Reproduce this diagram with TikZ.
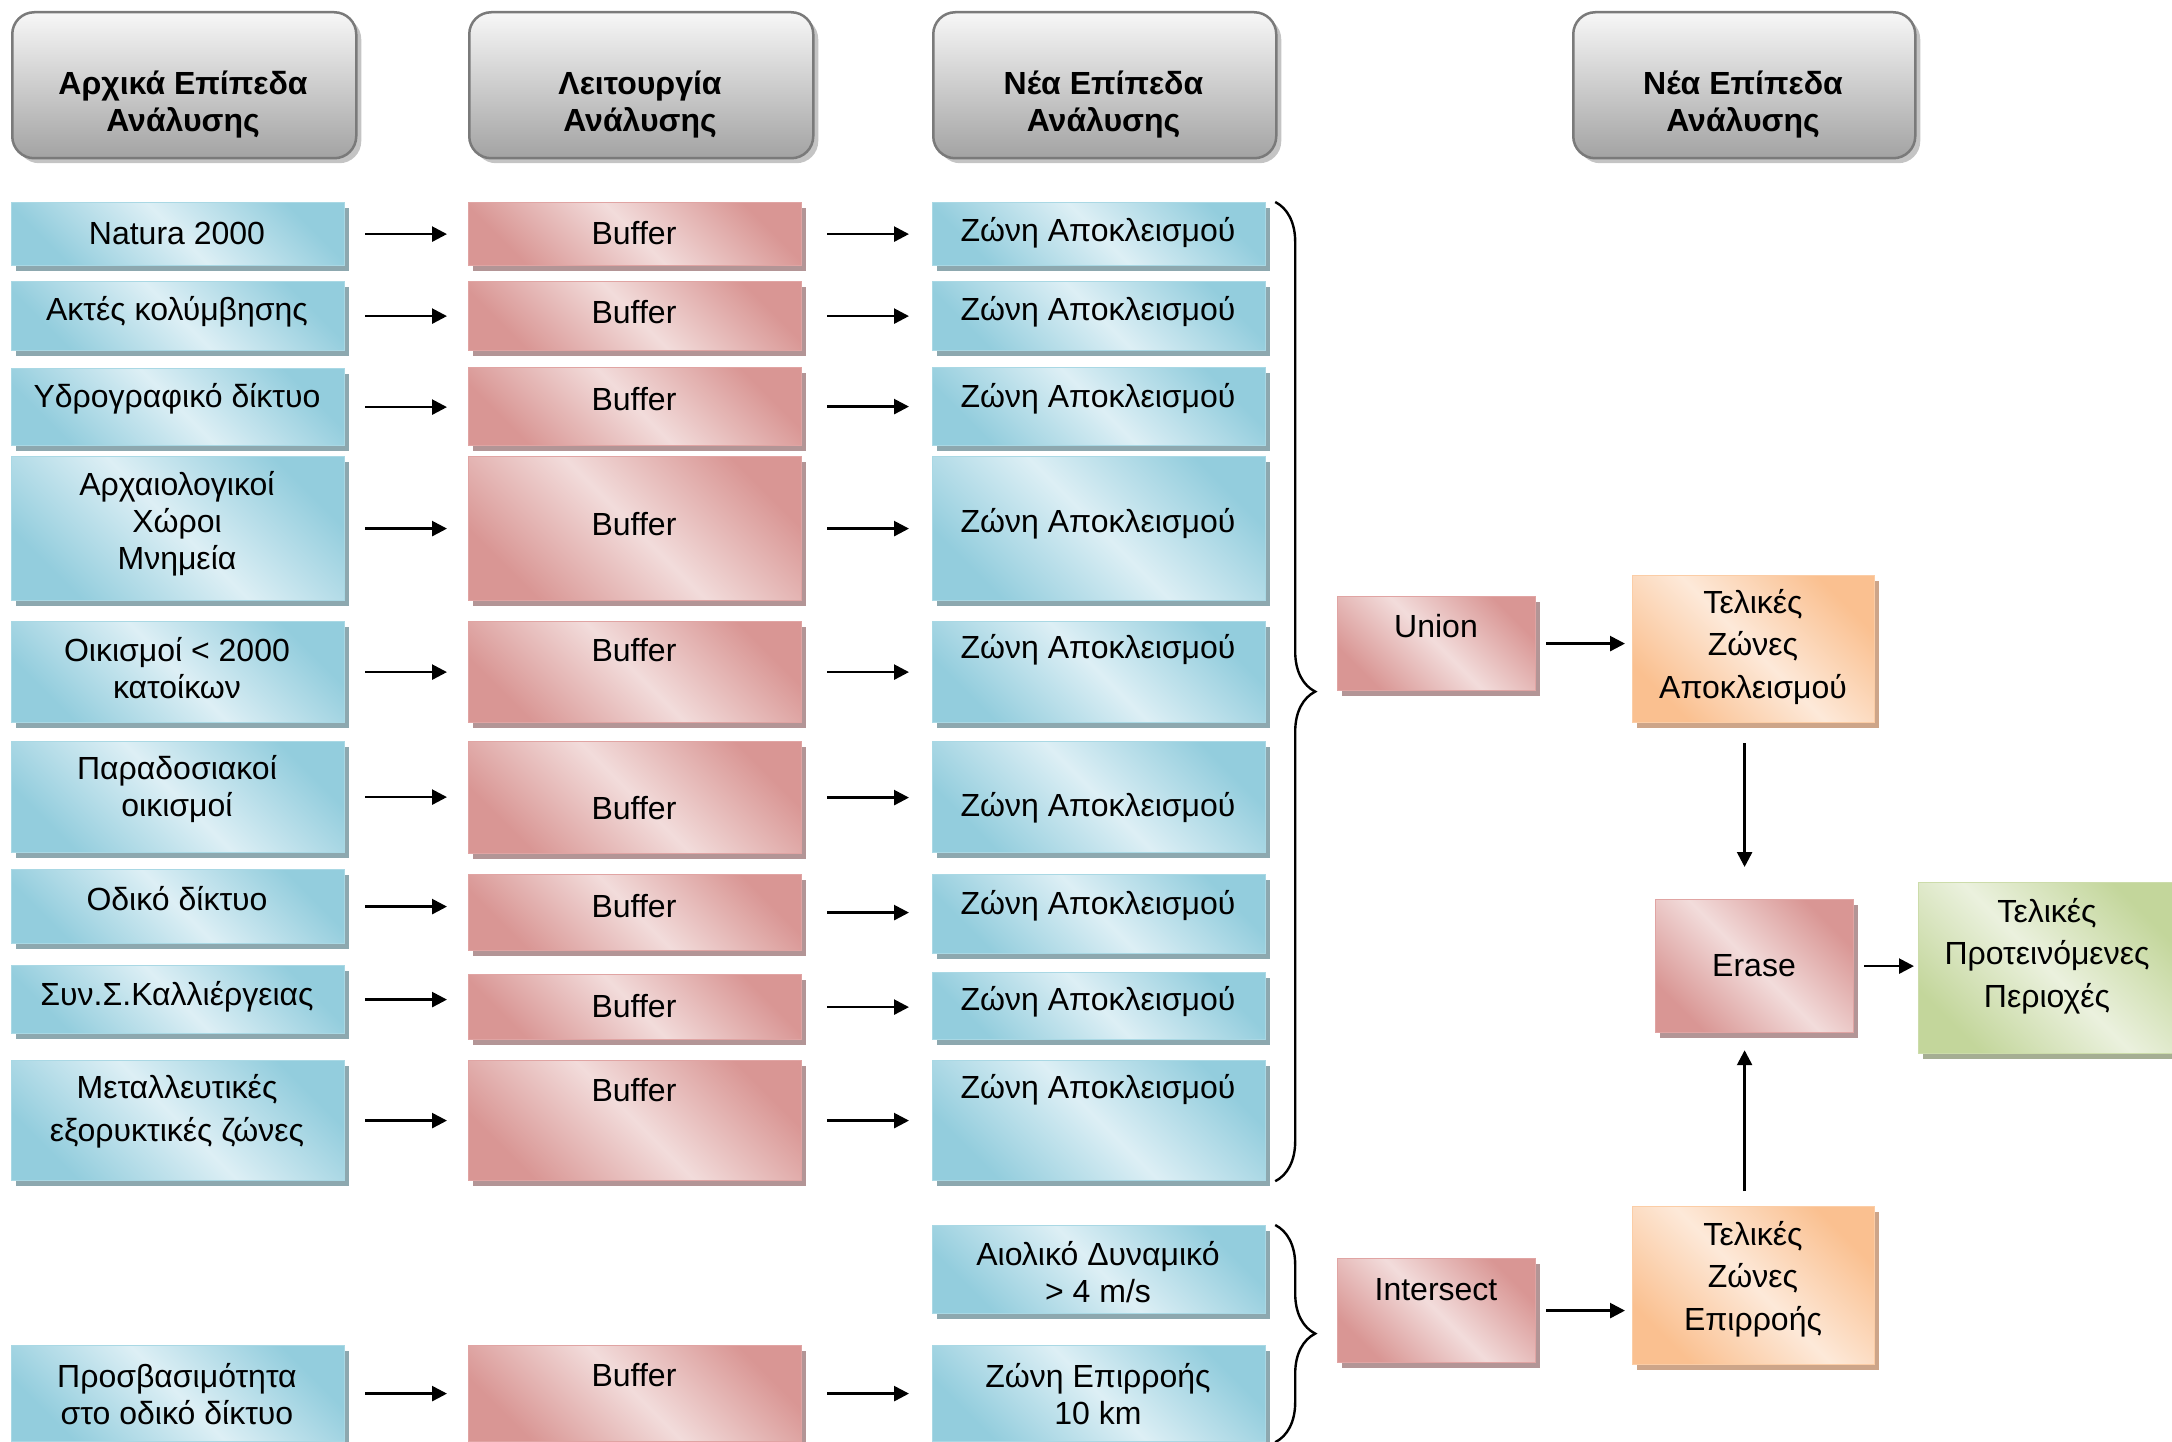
\documentclass[tikz,border=0pt]{standalone}
\usepackage{fontspec}
\setmainfont{Liberation Sans}
\usepackage{tikz}
\usetikzlibrary{positioning,arrows.meta,shadows,decorations.pathreplacing}

\definecolor{bluD}{HTML}{93CDDD}
\definecolor{bluL}{HTML}{DDEFF5}
\definecolor{bluB}{HTML}{A9D8E4}
\definecolor{bluS}{HTML}{8DA8AF}
\definecolor{redD}{HTML}{D99694}
\definecolor{redL}{HTML}{F2DCDB}
\definecolor{redB}{HTML}{E0A4A3}
\definecolor{redS}{HTML}{B39596}
\definecolor{oraD}{HTML}{FAC090}
\definecolor{oraL}{HTML}{FDE9D9}
\definecolor{oraB}{HTML}{FBCDA6}
\definecolor{oraS}{HTML}{CDA589}
\definecolor{grnD}{HTML}{C3D69B}
\definecolor{grnL}{HTML}{EBF1DE}
\definecolor{grnB}{HTML}{CCDCAA}
\definecolor{grnS}{HTML}{A5AE93}
\definecolor{gryT}{HTML}{F7F7F7}
\definecolor{gryB}{HTML}{A3A3A3}
\definecolor{gryD}{HTML}{7A7A7A}
\definecolor{gryS}{HTML}{C4C4C4}

\tikzset{
  box/.style={anchor=north west, inner sep=0pt, line width=1.2pt},
  bluebox/.style={box, draw=bluB, top color=bluD, bottom color=bluD, middle color=bluL,
    shading angle=-45, drop shadow={shadow xshift=4pt, shadow yshift=-5pt, fill=bluS, opacity=1}},
  redbox/.style={box, draw=redB, top color=redD, bottom color=redD, middle color=redL,
    shading angle=-45, drop shadow={shadow xshift=4pt, shadow yshift=-5pt, fill=redS, opacity=1}},
  orabox/.style={box, draw=oraB, top color=oraD, bottom color=oraD, middle color=oraL,
    shading angle=-45, drop shadow={shadow xshift=4pt, shadow yshift=-5pt, fill=oraS, opacity=1}},
  grnbox/.style={box, draw=grnB, top color=grnD, bottom color=grnD, middle color=grnL,
    shading angle=-45, drop shadow={shadow xshift=4pt, shadow yshift=-5pt, fill=grnS, opacity=1}},
  headbox/.style={anchor=north west, inner sep=0pt, rounded corners=22pt, line width=2.5pt,
    draw=gryD, top color=gryT, bottom color=gryB,
    drop shadow={shadow xshift=5pt, shadow yshift=-5pt, fill=gryS, opacity=1}},
  txt/.style={font=\fontsize{32}{37}\selectfont, align=center, inner sep=0pt},
  wide/.style={font=\fontsize{32}{42.5}\selectfont},
  head/.style={font=\fontsize{32}{37}\selectfont\bfseries, align=center, inner sep=0pt},
  arr/.style={-{Triangle[length=15pt,width=15pt]}, line width=2.6pt},
  brc/.style={decorate, decoration={brace, amplitude=40pt}, line width=2.4pt}
}

\begin{document}
\begin{tikzpicture}[x=1pt, y=-1pt]
\useasboundingbox (0,0) rectangle (2172,1442);

% Column headers
\foreach \k/\xa/\xb/\txt in {1/11/355/{Αρχικά Επίπεδα\\Ανάλυσης},
    2/468/812/{Λειτουργία\\Ανάλυσης}, 3/932/1275/{Νέα Επίπεδα\\Ανάλυσης},
    4/1572/1914/{Νέα Επίπεδα\\Ανάλυσης}} {
  \node[headbox, minimum width=\xb-\xa, minimum height=146] (h\k) at (\xa,11) {};
  \node[head] (ht\k) at ({(\xa+\xb)/2},105) {\txt};
}

% Initial layers
\foreach \k/\ya/\yb/\ty/\txt in {1/202/265/233/{Natura 2000},
    2/281/350/312/{Ακτές κολύμβησης}, 3/368/445/399/{Υδρογραφικό δίκτυο},
    4/456/600/524/{Αρχαιολογικοί\\Χώροι\\Μνημεία},
    5/621/722/668/{Οικισμοί < 2000\\κατοίκων},
    6/741/852/789/{Παραδοσιακοί\\οικισμοί}, 7/869/943/899/{Οδικό δίκτυο},
    8/965/1033/997/{Συν.Σ.Καλλιέργειας},
    9/1060/1180/1111/{Μεταλλευτικές\\[6pt]εξορυκτικές ζώνες},
    10/1345/1441/1394/{Προσβασιμότητα\\στο οδικό δίκτυο}} {
  \node[bluebox, minimum width=333, minimum height=\yb-\ya] (b\k) at (11,\ya) {};
  \node[txt] (bt\k) at (177,\ty) {\txt};
}

% Buffer operations
\foreach \k/\ya/\yb/\ty in {1/202/265/233, 2/281/350/312, 3/367/445/399,
    4/456/600/524, 5/621/722/650, 6/741/853/808, 7/874/950/906,
    8/974/1039/1006, 9/1060/1180/1090, 10/1345/1441/1375} {
  \node[redbox, minimum width=333, minimum height=\yb-\ya] (r\k) at (468,\ya) {};
  \node[txt] (rt\k) at (634,\ty) {Buffer};
}

% Exclusion zones
\foreach \k/\ya/\yb/\ty in {1/202/265/233, 2/281/350/312, 3/367/445/399,
    4/456/600/524, 5/621/722/650, 6/741/852/808, 7/874/953/906,
    8/972/1039/1002, 9/1060/1180/1090} {
  \node[bluebox, minimum width=333, minimum height=\yb-\ya] (z\k) at (932,\ya) {};
  \node[txt] (zt\k) at (1098,\ty) {Ζώνη Αποκλεισμού};
}
\node[bluebox, minimum width=333, minimum height=88] (wnd) at (932,1225) {};
\node[txt] (wndt) at (1098,1272) {Αιολικό Δυναμικό\\> 4 m/s};
\node[bluebox, minimum width=333, minimum height=96] (z10) at (932,1345) {};
\node[txt] (zt10) at (1098,1394) {Ζώνη Επιρροής\\10 km};

\foreach \k in {1,...,10} {
  \draw[arr, shorten <=20pt, shorten >=21pt] (b\k.east) -- (b\k.east -| r\k.west);
  \draw[arr, shorten <=25pt, shorten >=23pt] (r\k.east) -- (r\k.east -| z\k.west);
}

% Braces
\draw[brc] ([xshift=9pt]z1.north east) -- ([xshift=9pt]z9.south east);
\draw[brc] ([xshift=9pt]wnd.north east) -- ([xshift=9pt]z10.south east);

% Final steps
\node[redbox, minimum width=198, minimum height=94] (uni) at (1337,596) {};
\node[txt] (unit) at (1436,626) {Union};
\node[orabox, minimum width=242, minimum height=147] (fz1) at (1632,575) {};
\node[txt, wide] (fz1t) at (1753,647) {Τελικές\\Ζώνες\\Αποκλεισμού};
\node[redbox, minimum width=198, minimum height=133] (ers) at (1655,899) {};
\node[txt] (erst) at (1754,966) {Erase};
\node[grnbox, minimum width=258, minimum height=171] (fin) at (1918,882) {};
\node[txt, wide] (fint) at (2047,956) {Τελικές\\Προτεινόμενες\\Περιοχές};
\node[redbox, minimum width=198, minimum height=104] (int) at (1337,1258) {};
\node[txt] (intt) at (1436,1290) {Intersect};
\node[orabox, minimum width=242, minimum height=158] (fz2) at (1632,1206) {};
\node[txt, wide] (fz2t) at (1753,1279) {Τελικές\\Ζώνες\\Επιρροής};

\draw[arr, shorten <=10pt, shorten >=7pt] (uni.east) -- (uni.east -| fz1.west);
\draw[arr, shorten <=10pt, shorten >=7pt] (int.east) -- (int.east -| fz2.west);
\draw[arr, shorten <=20pt, shorten >=32pt] ([xshift=-9pt]fz1.south) -- ([xshift=-9pt]fz1.south |- ers.north);
\draw[arr, shorten <=15pt, shorten >=17pt] ([xshift=-9pt]fz2.north) -- ([xshift=-9pt]fz2.north |- ers.south);
\draw[arr, shorten <=10pt, shorten >=4pt] (ers.east) -- (ers.east -| fin.west);

\end{tikzpicture}
\end{document}
